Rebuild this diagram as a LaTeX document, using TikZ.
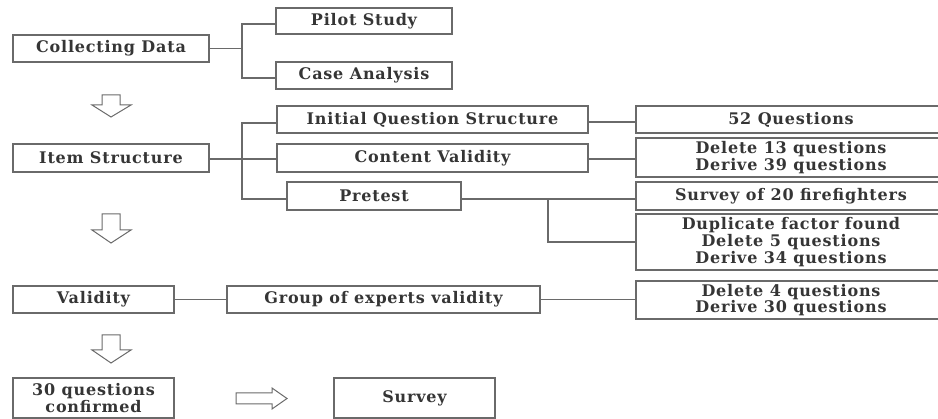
\documentclass[tikz,border=0pt]{standalone}
\usepackage{fontspec}
\setmainfont{DejaVu Serif}[LetterSpace=5]
\definecolor{boxline}{HTML}{6A6A6A}
\definecolor{txt}{HTML}{353535}
\tikzset{
  box/.style={draw=boxline, line width=1.3pt, inner sep=0pt, align=center,
    text=txt, font=\fontsize{16}{16.8}\selectfont\bfseries},
  conn/.style={draw=boxline, line width=1.2pt},
  blockarrow/.style={draw=boxline, line width=1pt, fill=white, line join=miter}
}
\begin{document}
\begin{tikzpicture}[x=1pt,y=-1pt]
\useasboundingbox (0,0) rectangle (938,419);
\clip (0,0) rectangle (938,419);
% left column
\node[box, minimum width=196pt, minimum height=27pt] (cd) at (111,48.5) {Collecting Data};
\node[box, minimum width=196pt, minimum height=28pt] (item) at (111,158) {Item Structure};
\node[box, minimum width=161pt, minimum height=27pt] (val) at (93.5,299.5) {Validity};
\node[box, minimum width=161pt, minimum height=40pt] (q30) at (93.5,398) {30 questions\\confirmed};
\node[box, minimum width=161pt, minimum height=40pt] (survey) at (414.5,398) {Survey};
% middle column
\node[box, minimum width=176pt, minimum height=26pt] (pilot) at (364,21) {Pilot Study};
\node[box, minimum width=176pt, minimum height=27pt] (case) at (364,75.5) {Case Analysis};
\node[box, minimum width=311pt, minimum height=27pt] (iqs) at (432.5,119.5) {Initial Question Structure};
\node[box, minimum width=311pt, minimum height=28pt] (cv) at (432.5,158) {Content Validity};
\node[box, minimum width=174pt, minimum height=28pt] (pre) at (374,196) {Pretest};
\node[box, minimum width=313pt, minimum height=27pt] (goe) at (383.5,299.5) {Group of experts validity};
% right column
\node[box, minimum width=310pt, minimum height=27pt] (q52) at (791,119.5) {52 Questions};
\node[box, minimum width=310pt, minimum height=39pt] (d13) at (791,157.5) {Delete 13 questions\\Derive 39 questions};
\node[box, minimum width=310pt, minimum height=28pt] (s20) at (791,196) {Survey of 20 firefighters};
\node[box, minimum width=310pt, minimum height=56pt] (dup) at (791,242) {Duplicate factor found\\Delete 5 questions\\Derive 34 questions};
\node[box, minimum width=310pt, minimum height=38pt] (d4) at (791,300) {Delete 4 questions\\Derive 30 questions};
% branch points
\coordinate (b1) at (242,48.5);
\coordinate (b2) at (242,159);
\coordinate (b3) at (548,199);
% connectors
\draw[conn] (cd.east) -- (b1);
\draw[conn] ([yshift=-3pt]pilot.west) -| (b1) |- ([yshift=-2.5pt]case.west);
\draw[conn] ([yshift=-1pt]item.east) -- (b2);
\draw[conn] ([yshift=-3.5pt]iqs.west) -| (b2) |- ([yshift=-3pt]pre.west);
\draw[conn] (b2) -- ([yshift=-1pt]cv.west);
\draw[conn] ([yshift=-2.5pt]iqs.east) -- ([yshift=-2.5pt]q52.west);
\draw[conn] ([yshift=-1pt]cv.east) -- ([yshift=-1.5pt]d13.west);
\draw[conn] ([yshift=-3pt]pre.east) -- ([yshift=-3pt]s20.west);
\draw[conn] (b3) |- (dup.west);
\draw[conn] (val.east) -- (goe.west);
\draw[conn] (goe.east) -- ([yshift=0.5pt]d4.west);
% block arrows
\draw[blockarrow] (102,95) -- (120,95) -- (120,105) -- (131,105) -- (111,117) -- (92,105) -- (102,105) -- cycle;
\draw[blockarrow] (102,214) -- (120,214) -- (120,230) -- (131,230) -- (111,243) -- (92,230) -- (102,230) -- cycle;
\draw[blockarrow] (102,335) -- (120,335) -- (120,350) -- (131,350) -- (111,363) -- (92,350) -- (102,350) -- cycle;
\draw[blockarrow] (236,393) -- (272,393) -- (272,388) -- (287,398.5) -- (272,409) -- (272,404) -- (236,404) -- cycle;
\end{tikzpicture}
\end{document}
